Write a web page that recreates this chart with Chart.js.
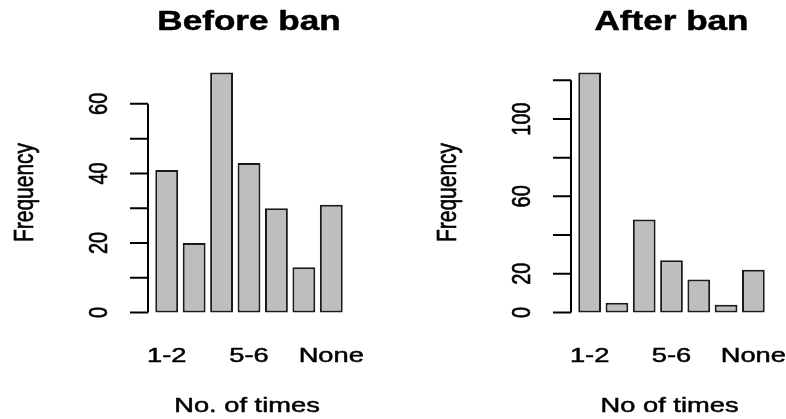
<!DOCTYPE html>
<html lang="en">
<head>
  <meta charset="UTF-8" />
  <title>Before and after ban</title>
  <script src="https://cdn.jsdelivr.net/npm/chart.js"></script>
  <style>
    html, body {
      margin: 0;
      padding: 0;
      background: #fff;
      overflow: hidden;
    }

    .panel {
      position: absolute;
      top: 0;
      width: 393px;
      height: 419px;
    }

    #leftPanel { left: 0; }
    #rightPanel { left: 393px; }
  </style>
</head>
<body>
  <div class="panel" id="leftPanel"><canvas id="beforeChart"></canvas></div>
  <div class="panel" id="rightPanel"><canvas id="afterChart"></canvas></div>

  <script>
    // DATA
    const categories = ['1-2', '10+', '3-4', '5-6', '7-8', '9-10', 'None'];
    const shownCategories = ['1-2', '5-6', 'None']; // R drops labels that would overlap

    const beforeCounts = [41, 20, 69, 43, 30, 13, 31];
    const afterCounts = [124, 5, 48, 27, 17, 4, 22];

    const beforeTicks = [0, 10, 20, 30, 40, 50, 60];
    const beforeTickLabels = ['0', '', '20', '', '40', '', '60'];
    const afterTicks = [0, 20, 40, 60, 80, 100, 120];
    const afterTickLabels = ['0', '20', '', '60', '', '100', ''];

    // the reference picture is stretched sideways, text included
    const SX = 1.3;
    const FONT = '"Liberation Sans", Arial, sans-serif';

    function drawText(ctx, text, x, y, opts) {
      ctx.save();
      ctx.translate(x, y);
      ctx.scale(SX, 1);
      if (opts.rotate) ctx.rotate(-Math.PI / 2);
      ctx.font = opts.font;
      ctx.fillStyle = '#000';
      ctx.strokeStyle = '#000';
      ctx.lineWidth = 0.5;
      ctx.textAlign = 'center';
      ctx.textBaseline = 'alphabetic';
      ctx.fillText(text, 0, 0);
      ctx.strokeText(text, 0, 0); // a touch heavier, like the original render
      ctx.restore();
    }

    // R style axes, titles and labels, placed with the chart's own scales
    const rAxes = {
      id: 'rAxes',
      afterDraw(chart, args, o) {
        const ctx = chart.ctx;
        const area = chart.chartArea;
        const y = chart.scales.y;
        const x = chart.scales.x;
        const axisX = area.left - 5;
        const mid = (area.left + area.right) / 2;

        ctx.save();
        ctx.strokeStyle = '#000';
        ctx.lineWidth = 2;
        ctx.beginPath();
        ctx.moveTo(axisX, y.getPixelForValue(o.ticks[0]));
        ctx.lineTo(axisX, y.getPixelForValue(o.ticks[o.ticks.length - 1]));
        o.ticks.forEach(t => {
          const py = y.getPixelForValue(t);
          ctx.moveTo(axisX - 18, py);
          ctx.lineTo(axisX, py);
        });
        ctx.stroke();
        ctx.restore();

        o.ticks.forEach((t, i) => {
          if (o.tickLabels[i]) {
            drawText(ctx, o.tickLabels[i], axisX - 41, y.getPixelForValue(t), { rotate: true, font: '20px ' + FONT });
          }
        });
        drawText(ctx, 'Frequency', axisX - 115, (area.top + area.bottom) / 2, { rotate: true, font: '21px ' + FONT });

        categories.forEach((c, i) => {
          if (shownCategories.includes(c)) {
            drawText(ctx, c, x.getPixelForValue(i), 362, { font: '21px ' + FONT });
          }
        });
        drawText(ctx, o.xTitle, mid - 2, 412, { font: '21px ' + FONT });
        drawText(ctx, o.title, mid, 30, { font: 'bold 27px ' + FONT });
      }
    };

    function makeChart(id, counts, ticks, tickLabels, title, xTitle, padding) {
      const top = Math.max(...counts);
      return new Chart(document.getElementById(id), {
        type: 'bar',
        data: {
          labels: categories,
          datasets: [{
            data: counts,
            backgroundColor: '#bebebe',
            borderColor: '#1a1a1a',
            borderWidth: 2,
            borderSkipped: false,
            barPercentage: 1,
            categoryPercentage: 1 / 1.2
          }]
        },
        options: {
          responsive: true,
          maintainAspectRatio: false,
          animation: false,
          layout: { padding: padding },
          plugins: {
            legend: { display: false },
            tooltip: { enabled: false },
            rAxes: { ticks: ticks, tickLabels: tickLabels, title: title, xTitle: xTitle }
          },
          scales: {
            x: { display: false },
            y: { display: false, min: -0.04 * top, max: 1.04 * top }
          }
        },
        plugins: [rAxes]
      });
    }

    makeChart('beforeChart', beforeCounts, beforeTicks, beforeTickLabels, 'Before ban', 'No. of times',
      { left: 153, right: 48, top: 63, bottom: 97 });
    makeChart('afterChart', afterCounts, afterTicks, afterTickLabels, 'After ban', 'No of times',
      { left: 183, right: 19, top: 63, bottom: 97 });
  </script>
</body>
</html>
